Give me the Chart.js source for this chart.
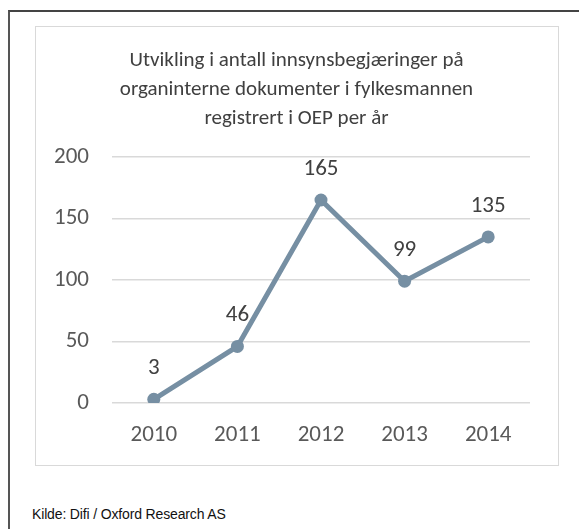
<!DOCTYPE html>
<html>
<head>
<meta charset="utf-8">
<script src="https://cdn.jsdelivr.net/npm/chart.js@4/dist/chart.umd.min.js"></script>
<style>
  html, body { margin: 0; padding: 0; background: #fff; width: 579px; height: 529px; overflow: hidden; }
  #outer { position: absolute; left: 8px; top: 10px; width: 640px; height: 600px; border-left: 2px solid #555; border-top: 2px solid #444; box-sizing: border-box; }
  #inner { position: absolute; left: 35px; top: 26px; width: 524px; height: 440px; border: 1.5px solid #d9d9d9; box-sizing: border-box; background: #fff; }
  #inner canvas { position: absolute; left: 0; top: 0; }
  #source { position: absolute; left: 32px; top: 506px; font-family: "Liberation Sans", Arial, sans-serif; font-size: 14px; color: #111; letter-spacing: -0.15px; }
</style>
</head>
<body>
<div id="outer"></div>
<div id="inner"><canvas id="c" width="521" height="437"></canvas></div>
<div id="source">Kilde: Difi / Oxford Research AS</div>
<script>
const categories = ["2010", "2011", "2012", "2013", "2014"];
const values = [3, 46, 165, 99, 135];
const yTicks = [0, 50, 100, 150, 200];
const titleLines = ["Utvikling i antall innsynsbegjæringer på", "organinterne dokumenter i fylkesmannen", "registrert i OEP per år"];

const FONT = "Carlito, Calibri, Lato, 'Open Sans', sans-serif";

const valueLabels = {
  id: 'valueLabels',
  afterDatasetsDraw(chart) {
    const ctx = chart.ctx;
    const meta = chart.getDatasetMeta(0);
    ctx.save();
    ctx.font = "23px " + FONT;
    ctx.fillStyle = "#404040";
    ctx.textAlign = "center";
    ctx.textBaseline = "middle";
    meta.data.forEach((pt, i) => {
      ctx.fillText(String(values[i]), pt.x, pt.y - 31);
    });
    ctx.restore();
  }
};

new Chart(document.getElementById('c'), {
  type: 'line',
  data: {
    labels: categories,
    datasets: [{
      data: values,
      borderColor: '#768fa3',
      backgroundColor: '#768fa3',
      borderWidth: 5,
      pointRadius: 6.5,
      pointHoverRadius: 6.5,
      pointBackgroundColor: '#768fa3',
      pointBorderWidth: 0,
      tension: 0
    }]
  },
  options: {
    responsive: false,
    animation: false,
    layout: { padding: 0 },
    plugins: {
      legend: { display: false },
      tooltip: { enabled: false },
      title: {
        display: true,
        text: titleLines,
        color: '#404040',
        font: { family: FONT, size: 21, weight: 'normal', lineHeight: 1.38 },
        padding: { top: 19, bottom: 24 }
      }
    },
    scales: {
      x: {
        offset: true,
        grid: { display: false, drawTicks: false },
        border: { display: false },
        ticks: { color: '#595959', font: { family: FONT, size: 23 }, padding: 18, maxRotation: 0 },
        afterFit(s) { s.height = 61; }
      },
      y: {
        min: 0, max: 200,
        afterBuildTicks(s) { s.ticks = yTicks.map(v => ({ value: v })); },
        grid: { color: '#d9d9d9', lineWidth: 1.5, drawTicks: false },
        border: { display: false },
        ticks: { color: '#595959', font: { family: FONT, size: 23 }, padding: 23 },
        afterFit(s) { s.width = 76; }
      },
      yRight: {
        position: 'right',
        min: 0, max: 200,
        grid: { display: false, drawTicks: false },
        border: { display: false },
        ticks: { display: false },
        afterFit(s) { s.width = 27; }
      }
    }
  },
  plugins: [valueLabels]
});
</script>
</body>
</html>
